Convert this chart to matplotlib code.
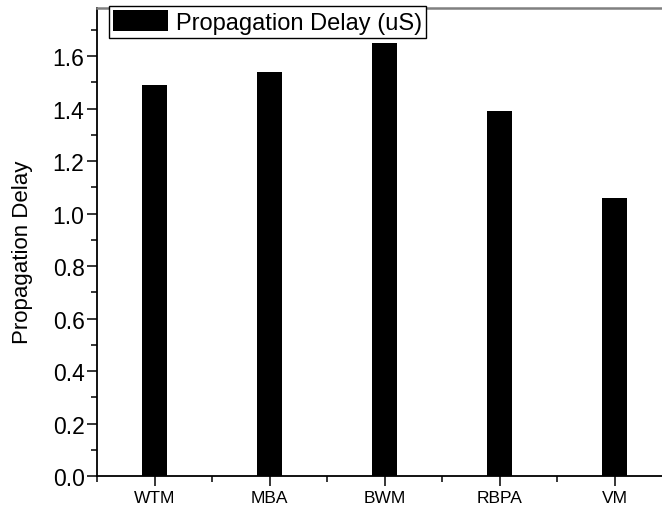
import matplotlib
matplotlib.use('Agg')
import matplotlib.pyplot as plt
from matplotlib.ticker import MultipleLocator, FixedLocator

plt.rcParams['font.family'] = ['Liberation Sans', 'DejaVu Sans']

# data
methods = ['WTM', 'MBA', 'BWM', 'RBPA', 'VM']
delay = [1.49, 1.54, 1.65, 1.39, 1.06]
series_name = 'Propagation Delay (uS)'

W, H = 662, 510
fig = plt.figure(figsize=(W / 100, H / 100), dpi=100)
# axes runs slightly past the right edge (original picture is cropped there)
ax = fig.add_axes([97 / W, 33 / H, 575 / W, 468 / H])

pos = list(range(1, len(methods) + 1))
ax.bar(pos, delay, width=0.22, color='black', label=series_name)

ax.set_xlim(0.5, 5.5)
ax.set_ylim(0, 1.783)
ax.set_xticks(pos)
ax.set_xticklabels(methods, fontsize=12.5)
ax.xaxis.set_minor_locator(FixedLocator([p - 0.5 for p in pos] + [5.5]))
ax.yaxis.set_major_locator(MultipleLocator(0.2))
ax.yaxis.set_minor_locator(MultipleLocator(0.1))
ax.yaxis.set_major_formatter(matplotlib.ticker.FormatStrFormatter('%.1f'))

ax.tick_params(axis='y', which='major', direction='out', length=7, width=1.1, labelsize=16.5, pad=2)
ax.tick_params(axis='y', which='minor', direction='out', length=4, width=1.1)
ax.tick_params(axis='x', which='major', direction='out', length=7, width=1.1, pad=3)
ax.tick_params(axis='x', which='minor', direction='out', length=4, width=1.1)

ax.set_ylabel('Propagation Delay', fontsize=16)
ax.yaxis.set_label_coords(-0.111, 0.48)

for s in ('left', 'bottom'):
    ax.spines[s].set_linewidth(1.3)
    ax.spines[s].set_color('black')
ax.spines['top'].set_color('#808080')
ax.spines['top'].set_linewidth(1.8)
ax.spines['right'].set_visible(False)

leg = ax.legend(loc='upper left', bbox_to_anchor=(109 / W, 1 - 7 / H),
                bbox_transform=fig.transFigure, borderaxespad=0,
                fontsize=17, fancybox=False, framealpha=1, edgecolor='black',
                handlelength=2.3, handleheight=0.95, handletextpad=0.35,
                borderpad=0.18)
leg.get_frame().set_linewidth(1.0)

fig.savefig('out.png', dpi=100)
